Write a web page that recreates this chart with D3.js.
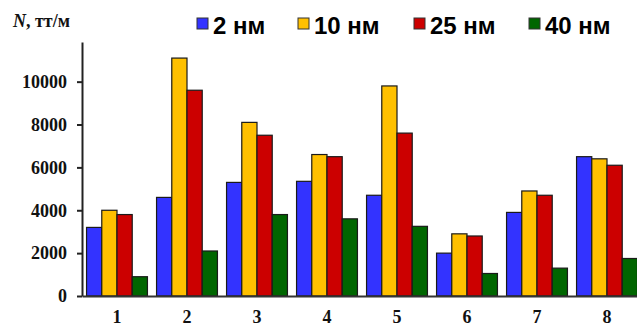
<!DOCTYPE html>
<html>
<head>
<meta charset="utf-8">
<script src="https://cdn.jsdelivr.net/npm/d3@7"></script>
<style>
  body { margin: 0; background: #fff; }
  svg { display: block; }
</style>
</head>
<body>
<svg id="chart"></svg>
<script>
(function() {

  const categories = ['1', '2', '3', '4', '5', '6', '7', '8'];
  const seriesNames = ['2', '10', '25', '40'];
  const seriesColors = ['#3333ff', '#ffc000', '#cc0000', '#006600'];
  const s2 = [3200, 4600, 5300, 5350, 4700, 2000, 3900, 6500];
  const s10 = [4000, 11100, 8100, 6600, 9800, 2900, 4900, 6400];
  const s25 = [3800, 9600, 7500, 6500, 7600, 2800, 4700, 6100];
  const s40 = [900, 2100, 3800, 3600, 3250, 1050, 1300, 1750];
  const yTicks = [0, 2000, 4000, 6000, 8000, 10000];
  const yMax = 11850;

  const series = [s2, s10, s25, s40];

  const width = 637;
  const height = 324;
  const margin = { left: 82, top: 42, bottom: 28 };
  const groupWidth = 70;

  const svg = d3.select('#chart')
    .attr('width', width)
    .attr('height', height);

  const x = d3.scaleBand()
    .domain(categories)
    .range([margin.left, margin.left + groupWidth * categories.length])
    .paddingInner(0.13)
    .paddingOuter(0.065);

  const x1 = d3.scaleBand()
    .domain(seriesNames)
    .range([0, x.bandwidth()]);

  const y = d3.scaleLinear()
    .domain([0, yMax])
    .range([height - margin.bottom, margin.top]);

  // bars
  const group = svg.append('g').selectAll('g')
    .data(categories)
    .enter()
    .append('g')
    .attr('transform', function(d) {
      return 'translate(' + x(d) + ',0)';
    });

  group.selectAll('rect')
    .data(function(d, i) {
      return series.map(function(s, k) {
        return { name: seriesNames[k], value: s[i], color: seriesColors[k] };
      });
    })
    .enter()
    .append('rect')
    .attr('x', function(d) { return x1(d.name); })
    .attr('y', function(d) { return y(d.value); })
    .attr('width', x1.bandwidth())
    .attr('height', function(d) { return y(0) - y(d.value); })
    .style('fill', function(d) { return d.color; })
    .style('stroke', '#1a1a1a')
    .style('stroke-width', 1.2);

  // y axis
  const yAxis = svg.append('g')
    .attr('transform', 'translate(' + margin.left + ',0)')
    .call(d3.axisLeft(y).tickValues(yTicks).tickFormat(d3.format('d'))
      .tickSize(5).tickPadding(10).tickSizeOuter(0));

  yAxis.select('.domain').style('stroke', '#222').style('stroke-width', 2);
  yAxis.selectAll('.tick line').style('stroke', '#222').style('stroke-width', 2);
  yAxis.selectAll('.tick text')
    .style('font-family', '"Liberation Serif", "Times New Roman", serif')
    .style('font-weight', 'bold')
    .style('font-size', '18px')
    .style('fill', '#111');

  // x axis (labels sit low, as in the source, but kept inside the frame)
  const xAxis = svg.append('g')
    .attr('transform', 'translate(0,' + y(0) + ')')
    .call(d3.axisBottom(x).tickSize(0).tickPadding(14).tickSizeOuter(0));

  xAxis.select('.domain').style('stroke', '#333').style('stroke-width', 2);
  xAxis.selectAll('.tick text')
    .style('font-family', '"Liberation Serif", "Times New Roman", serif')
    .style('font-weight', 'bold')
    .style('font-size', '18px')
    .style('fill', '#111');

  // axis title
  const title = svg.append('text')
    .attr('x', 13)
    .attr('y', 27)
    .style('font-family', '"Liberation Serif", "Times New Roman", serif')
    .style('font-weight', 'bold')
    .style('font-size', '18px')
    .style('fill', '#111');
  title.append('tspan').style('font-style', 'italic').text('N');
  title.append('tspan').text(', тт/м');

  // legend
  const legendX = [197, 298, 414, 529];
  const legend = svg.append('g').selectAll('g')
    .data(seriesNames)
    .enter()
    .append('g')
    .attr('transform', function(d, i) {
      return 'translate(' + legendX[i] + ',0)';
    });

  legend.append('rect')
    .attr('x', 0)
    .attr('y', 18)
    .attr('width', 11)
    .attr('height', 11)
    .style('fill', function(d, i) { return seriesColors[i]; })
    .style('stroke', '#333')
    .style('stroke-width', 1);

  const lt = legend.append('text')
    .attr('x', 16)
    .attr('y', 34)
    .style('font-family', '"Liberation Sans", Arial, sans-serif')
    .style('font-size', '24px')
    .style('fill', '#000');
  lt.append('tspan').style('font-weight', 600).text(function(d) { return d; });
  lt.append('tspan').style('font-weight', 'bold').text(' нм');

})();
</script>
</body>
</html>
